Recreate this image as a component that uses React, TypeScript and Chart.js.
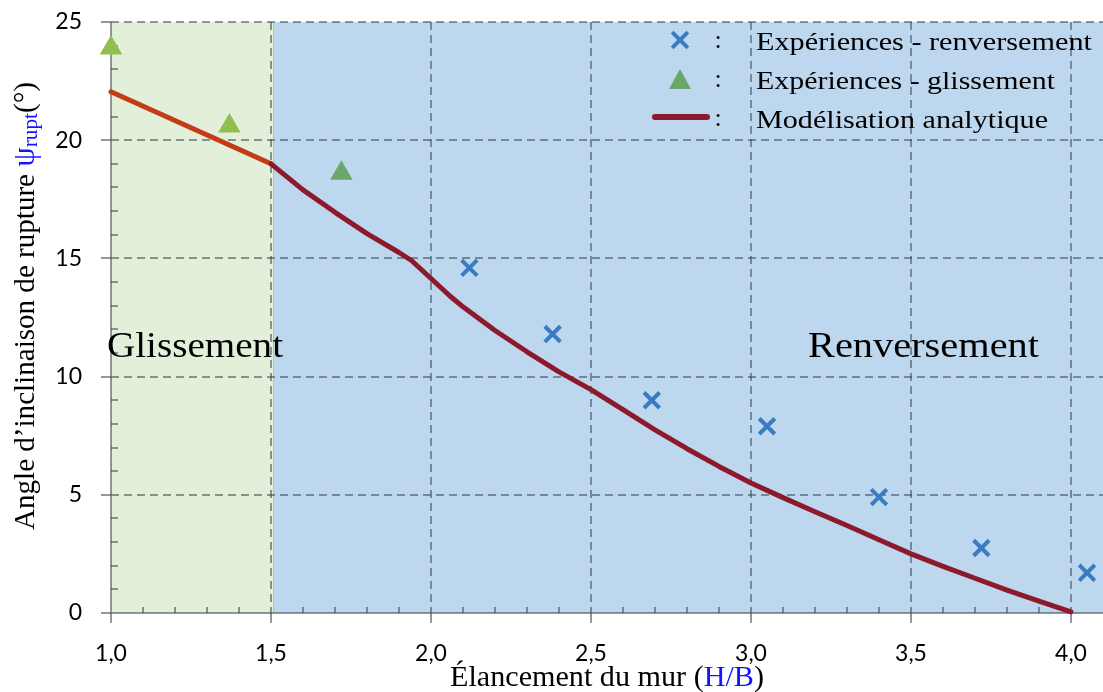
import { useEffect, useRef } from 'react';
import { Chart, registerables } from 'chart.js';

Chart.register(...registerables);

// ---------- data ----------
const renversementX = [2.12, 2.38, 2.69, 3.05, 3.4, 3.72, 4.05];
const renversementY = [14.6, 11.8, 9.0, 7.9, 4.9, 2.75, 1.7];

const glissementX = [1.0, 1.37, 1.72];
const glissementY = [23.9, 20.6, 18.6];
const glissementColors = ['#92BE50', '#92BE50', '#6BA66B'];

const modelX = [1.0, 1.5, 1.6, 1.7, 1.8, 1.9, 1.94, 2.0, 2.06, 2.1, 2.2, 2.3, 2.4, 2.5, 2.6, 2.7, 2.8, 2.9, 3.0, 3.1, 3.2, 3.3, 3.4, 3.5, 3.6, 3.7, 3.8, 3.9, 4.0];
const modelY = [22.05, 19.0, 17.9, 16.95, 16.05, 15.25, 14.9, 14.15, 13.4, 12.95, 11.95, 11.05, 10.2, 9.45, 8.6, 7.75, 6.95, 6.2, 5.5, 4.88, 4.28, 3.7, 3.1, 2.5, 1.97, 1.47, 0.97, 0.5, 0.05];

const xTicks = [1, 1.5, 2, 2.5, 3, 3.5, 4];
const xTickLabels = ['1,0', '1,5', '2,0', '2,5', '3,0', '3,5', '4,0'];
const yTicks = [0, 5, 10, 15, 20, 25];
const yTickLabels = ['0', '5', '10', '15', '20', '25'];

const legendLabels = ['Expériences - renversement', 'Expériences - glissement', 'Modélisation analytique'];
const regionLabels = ['Glissement', 'Renversement'];

// ---------- styles ----------
const GREEN_BG = '#E2F0D9';
const BLUE_BG = '#BDD7EE';
const GRID = 'rgba(60,70,80,0.55)';
const CROSS = '#3A7CC1';
const LINE_DARK = '#8C1A2B';
const LINE_LIGHT = '#C33C17';
const SERIF = '"Liberation Serif", "DejaVu Serif", serif';

type Run = { t: string; size: number; color: string; dy?: number };

function drawRuns(ctx: CanvasRenderingContext2D, runs: Run[], x: number, y: number, width: number, rotate = false) {
  ctx.save();
  let total = 0;
  const ws = runs.map((r) => {
    ctx.font = `${r.size}px ${SERIF}`;
    const w = ctx.measureText(r.t).width;
    total += w;
    return w;
  });
  const sx = width > 0 ? width / total : 1;
  ctx.translate(x, y);
  if (rotate) ctx.rotate(-Math.PI / 2);
  ctx.scale(sx, 1);
  ctx.textBaseline = 'alphabetic';
  ctx.textAlign = 'left';
  let cx = 0;
  runs.forEach((r, i) => {
    ctx.font = `${r.size}px ${SERIF}`;
    ctx.fillStyle = r.color;
    ctx.fillText(r.t, cx, r.dy || 0);
    cx += ws[i];
  });
  ctx.restore();
}

const backgroundPlugin = {
  id: 'bgGrid',
  beforeDraw(chart: any) {
    const { ctx, chartArea: a, scales } = chart;
    const x = scales.x;
    const y = scales.y;
    const xs = x.getPixelForValue(1.5);
    ctx.save();
    ctx.fillStyle = GREEN_BG;
    ctx.fillRect(a.left, a.top, xs + 2 - a.left, a.bottom - a.top);
    ctx.fillStyle = BLUE_BG;
    ctx.fillRect(xs + 2, a.top, a.right - xs - 2, a.bottom - a.top);
    ctx.strokeStyle = '#A9D18E';
    ctx.lineWidth = 1;
    ctx.beginPath();
    ctx.moveTo(xs + 2.5, a.top);
    ctx.lineTo(xs + 2.5, a.bottom);
    ctx.stroke();

    // dashed grid
    ctx.strokeStyle = GRID;
    ctx.lineWidth = 2;
    ctx.setLineDash([8, 5]);
    xTicks.forEach((v) => {
      if (v === xTicks[0]) return;
      const px = Math.round(x.getPixelForValue(v));
      ctx.beginPath();
      ctx.moveTo(px, a.top);
      ctx.lineTo(px, a.bottom);
      ctx.stroke();
    });
    yTicks.forEach((v) => {
      if (v === yTicks[0]) return;
      const py = Math.round(y.getPixelForValue(v));
      ctx.beginPath();
      ctx.moveTo(a.left, py);
      ctx.lineTo(a.right, py);
      ctx.stroke();
    });
    ctx.setLineDash([]);

    // minor ticks
    ctx.lineWidth = 2;
    for (let i = 1; i < 31; i++) {
      const v = 1 + i * 0.1;
      if (i % 5 === 0) continue;
      const px = Math.round(x.getPixelForValue(v));
      ctx.beginPath();
      ctx.moveTo(px, a.bottom);
      ctx.lineTo(px, a.bottom - 6);
      ctx.stroke();
    }
    for (let i = 1; i < 25; i++) {
      if (i % 5 === 0) continue;
      const py = Math.round(y.getPixelForValue(i));
      ctx.beginPath();
      ctx.moveTo(a.left, py);
      ctx.lineTo(a.left + 7, py);
      ctx.stroke();
    }
    // major ticks (outside)
    xTicks.forEach((v) => {
      const px = Math.round(x.getPixelForValue(v));
      ctx.beginPath();
      ctx.moveTo(px, a.bottom);
      ctx.lineTo(px, a.bottom + 10);
      ctx.stroke();
    });
    yTicks.forEach((v) => {
      const py = Math.round(y.getPixelForValue(v));
      ctx.beginPath();
      ctx.moveTo(a.left, py);
      ctx.lineTo(a.left - 10, py);
      ctx.stroke();
    });
    // axes
    ctx.beginPath();
    ctx.moveTo(a.left, a.top);
    ctx.lineTo(a.left, a.bottom);
    ctx.lineTo(a.right, a.bottom);
    ctx.stroke();
    ctx.restore();
  },
  afterDraw(chart: any) {
    const { ctx, chartArea: a } = chart;
    ctx.save();
    // region labels
    drawRuns(ctx, [{ t: regionLabels[0], size: 36, color: '#000' }], 107, 357, 176);
    drawRuns(ctx, [{ t: regionLabels[1], size: 36, color: '#000' }], 808, 357, 231);

    // axis titles
    const cx = (a.left + a.right) / 2;
    const xw = 314;
    drawRuns(
      ctx,
      [
        { t: 'Élancement du mur (', size: 30, color: '#000' },
        { t: 'H/B', size: 30, color: '#1414FF' },
        { t: ')', size: 30, color: '#000' },
      ],
      cx - xw / 2,
      686,
      xw
    );
    drawRuns(
      ctx,
      [
        { t: 'Angle d’inclinaison de rupture ', size: 30, color: '#000' },
        { t: 'ψ', size: 32, color: '#1414FF' },
        { t: 'rupt', size: 22, color: '#1414FF', dy: 3 },
        { t: '(°)', size: 30, color: '#000' },
      ],
      34,
      530,
      448,
      true
    );

    // legend
    const rows = [50, 89, 128];
    const widths = [336, 299, 292];
    rows.forEach((by, i) => {
      drawRuns(ctx, [{ t: legendLabels[i], size: 26, color: '#000' }], 756, by, widths[i]);
      ctx.font = `26px ${SERIF}`;
      ctx.fillStyle = '#000';
      ctx.textAlign = 'center';
      ctx.textBaseline = 'alphabetic';
      ctx.fillText(':', 718, by - 2);
    });
    // cross marker
    ctx.strokeStyle = CROSS;
    ctx.lineWidth = 4;
    const c = 7.8;
    ctx.beginPath();
    ctx.moveTo(680 - c, 40 - c);
    ctx.lineTo(680 + c, 40 + c);
    ctx.moveTo(680 + c, 40 - c);
    ctx.lineTo(680 - c, 40 + c);
    ctx.stroke();
    // triangle marker
    ctx.fillStyle = '#6BA66B';
    ctx.beginPath();
    ctx.moveTo(680, 69);
    ctx.lineTo(691, 89);
    ctx.lineTo(669, 89);
    ctx.closePath();
    ctx.fill();
    // line marker
    ctx.strokeStyle = LINE_DARK;
    ctx.lineWidth = 6;
    ctx.lineCap = 'round';
    ctx.beginPath();
    ctx.moveTo(655, 117);
    ctx.lineTo(707, 117);
    ctx.stroke();
    ctx.restore();
  },
};

function zeroPad(s: any) {
  s.paddingTop = 0;
  s.paddingBottom = 0;
  s.paddingLeft = 0;
  s.paddingRight = 0;
}

export default function App() {
  const ref = useRef<HTMLCanvasElement | null>(null);
  useEffect(() => {
    if (!ref.current) return;
    const chart = new Chart(ref.current, {
      type: 'scatter',
      data: {
        datasets: [
          {
            label: legendLabels[0],
            data: renversementX.map((x, i) => ({ x, y: renversementY[i] })),
            pointStyle: 'crossRot',
            pointRadius: 11,
            pointHoverRadius: 11,
            pointBorderWidth: 4,
            borderColor: CROSS,
            backgroundColor: CROSS,
            clip: false,
          },
          {
            label: legendLabels[1],
            data: glissementX.map((x, i) => ({ x, y: glissementY[i] })),
            pointStyle: 'triangle',
            pointRadius: 13,
            pointHoverRadius: 13,
            pointBorderWidth: 0,
            backgroundColor: glissementColors,
            borderColor: glissementColors,
            clip: false,
          },
          {
            label: legendLabels[2],
            data: modelX.map((x, i) => ({ x, y: modelY[i] })),
            showLine: true,
            pointRadius: 0,
            borderWidth: 5,
            borderColor: LINE_DARK,
            borderJoinStyle: 'round',
            borderCapStyle: 'round',
            tension: 0,
            segment: {
              borderColor: (ctx: any) => (ctx.p0.parsed.x < 1.5 ? LINE_LIGHT : LINE_DARK),
            },
            clip: false,
          } as any,
        ],
      },
      options: {
        animation: false,
        responsive: false,
        maintainAspectRatio: false,
        layout: { autoPadding: false, padding: { top: 22, left: 0, right: 0, bottom: 0 } },
        plugins: { legend: { display: false }, tooltip: { enabled: false } },
        events: [],
        scales: {
          x: {
            type: 'linear',
            min: 1,
            max: 4.1,
            grid: { display: false, drawTicks: true, tickLength: 27 },
            border: { display: false },
            afterBuildTicks: (s: any) => {
              s.ticks = xTicks.map((v) => ({ value: v }));
            },
            afterFit: (s: any) => {
              s.height = 79;
              zeroPad(s);
            },
            ticks: {
              padding: 0,
              color: '#000',
              autoSkip: false,
              maxRotation: 0,
              font: { family: 'Lato', size: 23 },
              callback: (v: any) => {
                const i = xTicks.indexOf(Number(v));
                return i >= 0 ? xTickLabels[i] : '';
              },
            },
          },
          y: {
            type: 'linear',
            min: 0,
            max: 25,
            grid: { display: false, drawTicks: true, tickLength: 29 },
            border: { display: false },
            afterBuildTicks: (s: any) => {
              s.ticks = yTicks.map((v) => ({ value: v }));
            },
            afterFit: (s: any) => {
              s.width = 111;
              zeroPad(s);
            },
            ticks: {
              padding: 0,
              color: '#000',
              autoSkip: false,
              font: { family: 'Lato', size: 23 },
              callback: (v: any) => {
                const i = yTicks.indexOf(Number(v));
                return i >= 0 ? yTickLabels[i] : '';
              },
            },
          },
        },
      } as any,
      plugins: [backgroundPlugin],
    });
    return () => chart.destroy();
  }, []);
  return (
    <div style={{ position: 'absolute', left: 0, top: 0, width: 1103, height: 692 }}>
      <canvas ref={ref} width={1103} height={692} style={{ display: 'block' }} />
    </div>
  );
}
